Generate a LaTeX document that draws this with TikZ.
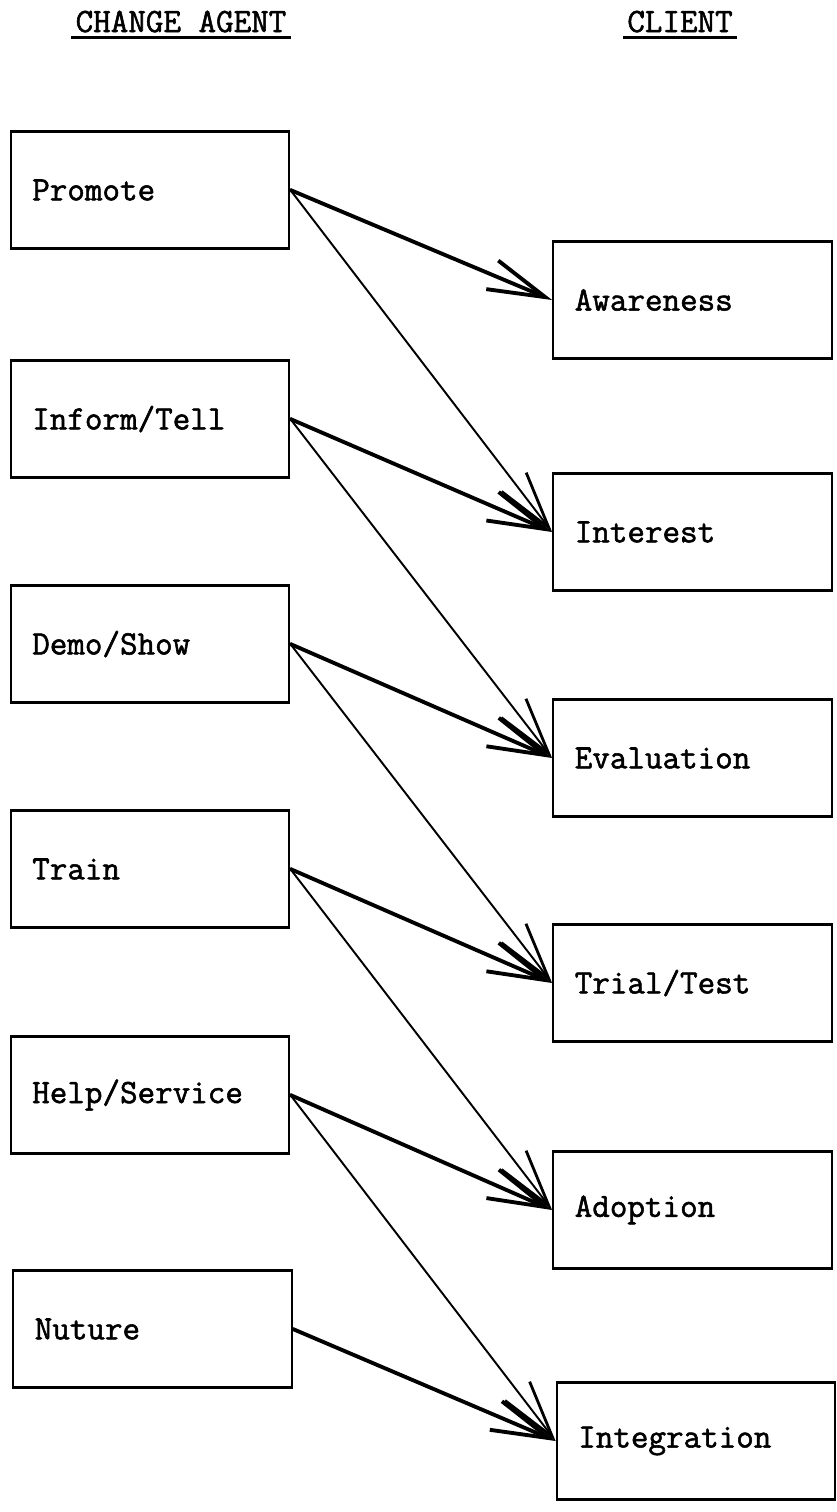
\documentclass[tikz,border=0pt]{standalone}
\usepackage{fontspec}
\newfontfamily\typer{Latin Modern Mono}[FakeBold=1.6]
\usetikzlibrary{arrows.meta}

\begin{document}
\begin{tikzpicture}[x=1cm,y=1cm,font=\typer\bfseries\fontsize{19.4}{22}\selectfont,
  stagebox/.style={draw,line width=1.3pt,minimum width=5.57cm,minimum height=2.34cm,text width=4.71cm,inner xsep=.43cm,align=left},
  pushline/.style={line width=2.2pt,line cap=round,-{Straight Barb[length=1.15cm,width=.62cm]}},
  leakline/.style={line width=1.1pt,line cap=round,-{Straight Barb[length=1.15cm,width=.62cm,line width=1.6pt]}}]
\path[use as bounding box] (0,0) rectangle (16.74,-30.24);
\node[anchor=base] (agent) at (3.62,-.64) {CHANGE AGENT};
\node[anchor=base] (client) at (13.6,-.64) {CLIENT};
\foreach \h in {agent,client}{\draw[line width=1.6pt] ([xshift=1pt,yshift=-3.2pt]\h.base west) -- ([xshift=-1pt,yshift=-3.2pt]\h.base east);}
\node[stagebox] (promote) at (3.0,-3.80) {Promote};
\node[stagebox] (inform) at (3.0,-8.38) {Inform/Tell};
\node[stagebox] (demo) at (3.0,-12.88) {Demo/Show};
\node[stagebox] (train) at (3.0,-17.38) {Train};
\node[stagebox] (help) at (3.0,-21.90) {Help/Service};
\node[stagebox] (nuture) at (3.05,-26.58) {Nuture};
\node[stagebox] (aware) at (13.85,-6.00) {Awareness};
\node[stagebox] (interest) at (13.85,-10.64) {Interest};
\node[stagebox] (evaluation) at (13.85,-15.16) {Evaluation};
\node[stagebox] (trial) at (13.85,-19.66) {Trial/Test};
\node[stagebox] (adoption) at (13.85,-24.20) {Adoption};
\node[stagebox] (integration) at (13.92,-28.82) {Integration};
\foreach \a/\b/\c in {promote/aware/interest,inform/interest/evaluation,demo/evaluation/trial,train/trial/adoption,help/adoption/integration}{
  \draw[pushline] (\a.east) -- (\b.west);
  \draw[leakline] (\a.east) -- (\c.west);}
\draw[pushline] (nuture.east) -- (integration.west);
\end{tikzpicture}
\end{document}
